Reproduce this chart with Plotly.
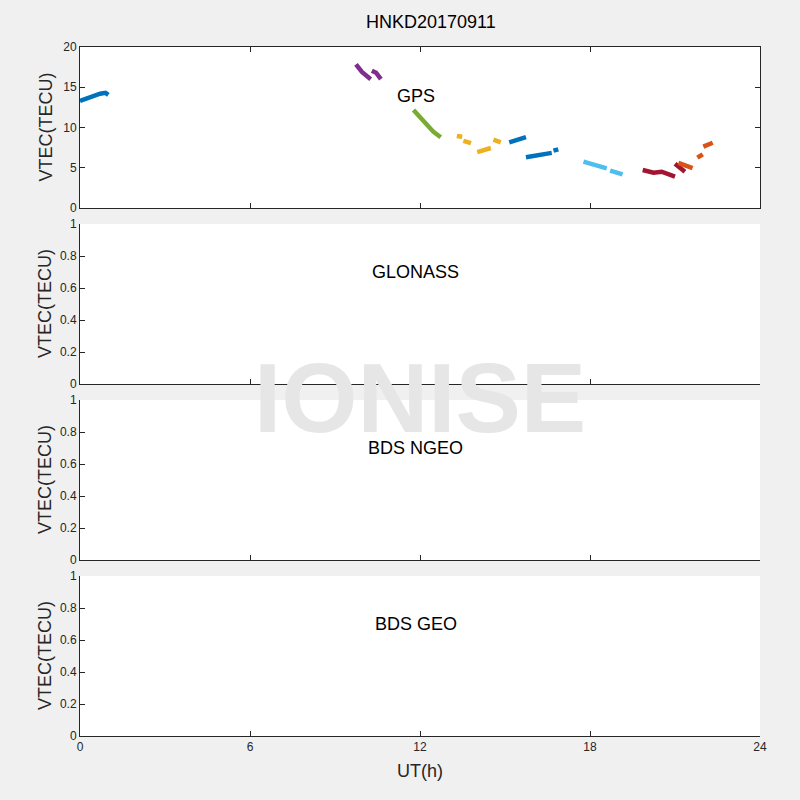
import plotly.graph_objects as go

# ---- data (UT hours, VTEC in TECU) ----
station_title = "HNKD20170911"
panel_names = ["GPS", "GLONASS", "BDS NGEO", "BDS GEO"]
x_ticks = [0, 6, 12, 18, 24]
gps_yticks = [0, 5, 10, 15, 20]
other_yticks = [0, 0.2, 0.4, 0.6, 0.8, 1]

blue_a_h = [0.0, 0.35, 0.71, 0.9, 1.0]
blue_a_v = [13.3, 13.8, 14.2, 14.3, 14.05]
purple_a_h = [9.74, 9.95, 10.26]
purple_a_v = [17.85, 16.9, 16.0]
purple_b_h = [10.3, 10.45, 10.62]
purple_b_v = [17.06, 16.8, 16.0]
green_h = [11.77, 12.12, 12.47, 12.73]
green_v = [12.17, 10.72, 9.48, 8.78]
yellow_a_h = [13.3, 13.49]
yellow_a_v = [8.95, 8.85]
yellow_b_h = [13.53, 13.8]
yellow_b_v = [8.35, 8.05]
yellow_c_h = [14.02, 14.25, 14.5]
yellow_c_v = [6.95, 7.15, 7.45]
yellow_d_h = [14.59, 14.85]
yellow_d_v = [8.5, 8.15]
blue_b_h = [15.15, 15.45, 15.74]
blue_b_v = [8.15, 8.55, 8.8]
blue_c_h = [15.74, 16.2, 16.65]
blue_c_v = [6.3, 6.55, 6.85]
blue_d_h = [16.71, 16.88]
blue_d_v = [7.12, 7.29]
cyan_a_h = [17.77, 18.2, 18.59]
cyan_a_v = [5.75, 5.35, 4.93]
cyan_b_h = [18.71, 19.15]
cyan_b_v = [4.64, 4.18]
red_a_h = [19.86, 20.24, 20.53, 21.0]
red_a_v = [4.72, 4.39, 4.51, 3.89]
red_b_h = [21.0, 21.35]
red_b_v = [5.5, 4.51]
orange_a_h = [21.12, 21.62]
orange_a_v = [5.6, 4.95]
orange_b_h = [21.79, 21.98]
orange_b_v = [6.25, 6.67]
orange_c_h = [22.0, 22.33]
orange_c_v = [7.62, 8.11]

segments = [
    (blue_a_h, blue_a_v, "#0072BD"),
    (purple_a_h, purple_a_v, "#7E2F8E"),
    (purple_b_h, purple_b_v, "#7E2F8E"),
    (green_h, green_v, "#77AC30"),
    (yellow_a_h, yellow_a_v, "#EDB120"),
    (yellow_b_h, yellow_b_v, "#EDB120"),
    (yellow_c_h, yellow_c_v, "#EDB120"),
    (yellow_d_h, yellow_d_v, "#EDB120"),
    (blue_b_h, blue_b_v, "#0072BD"),
    (blue_c_h, blue_c_v, "#0072BD"),
    (blue_d_h, blue_d_v, "#0072BD"),
    (cyan_a_h, cyan_a_v, "#4DBEEE"),
    (cyan_b_h, cyan_b_v, "#4DBEEE"),
    (red_a_h, red_a_v, "#A2142F"),
    (red_b_h, red_b_v, "#A2142F"),
    (orange_a_h, orange_a_v, "#D95319"),
    (orange_b_h, orange_b_v, "#D95319"),
    (orange_c_h, orange_c_v, "#D95319"),
]

W, H = 800, 800
FONT = "Liberation Sans, Arial, Helvetica, sans-serif"
AX = "#262626"

fig = go.Figure()
for h, v, c in segments:
    fig.add_trace(go.Scatter(x=h, y=v, mode="lines",
                             line=dict(color=c, width=4.5),
                             xaxis="x", yaxis="y", showlegend=False,
                             hoverinfo="skip"))

# panel pixel boxes (top, bottom)
panels_px = [(47, 208), (224, 384), (400, 560), (576, 736)]
x_dom = [80 / W, 760 / W]

layout = dict(
    width=W, height=H,
    margin=dict(l=0, r=0, t=0, b=0),
    paper_bgcolor="#f0f0f0",
    plot_bgcolor="white",
    font=dict(family=FONT, color=AX, size=12),
    showlegend=False,
)

annotations = []
for i, (top, bot) in enumerate(panels_px):
    n = "" if i == 0 else str(i + 1)
    xa = "xaxis" + n
    ya = "yaxis" + n
    mirror = "ticks" if i == 0 else False
    layout[xa] = dict(
        domain=x_dom, anchor="y" + n, range=[0, 24],
        tickvals=x_ticks, ticktext=[str(t) for t in x_ticks],
        showticklabels=(i == 3), ticks="inside", ticklen=5, tickwidth=1,
        tickcolor=AX, showline=True, linecolor=AX, linewidth=1,
        mirror=mirror, showgrid=False, zeroline=False, automargin=False,
        tickfont=dict(size=12, color=AX, family=FONT), fixedrange=True,
    )
    if i == 0:
        yr, yt = [0, 20], gps_yticks
    else:
        yr, yt = [0, 1], other_yticks
    layout[ya] = dict(
        domain=[1 - bot / H, 1 - top / H], anchor="x" + n, range=yr,
        tickvals=yt, ticktext=[("%g" % t) for t in yt],
        ticks="inside", ticklen=5, tickwidth=1, tickcolor=AX,
        showline=True, linecolor=AX, linewidth=1, mirror=mirror,
        showgrid=False, zeroline=False, automargin=False,
        tickfont=dict(size=12, color=AX, family=FONT), fixedrange=True,
    )
    # y-axis title
    annotations.append(dict(
        text="VTEC(TECU)", x=45 / W, y=1 - (top + bot) / 2 / H,
        xref="paper", yref="paper", showarrow=False, textangle=-90,
        xanchor="center", yanchor="middle",
        font=dict(size=18, color=AX, family=FONT)))
    # panel label
    annotations.append(dict(
        text=panel_names[i], x=11.85, y=(13.9 if i == 0 else 0.7),
        xref="x" + n, yref="y" + n, showarrow=False,
        xanchor="center", yanchor="middle",
        font=dict(size=18, color="black", family=FONT)))

annotations.append(dict(
    text=station_title, x=431 / W, y=1 - 22 / H, xref="paper", yref="paper",
    showarrow=False, xanchor="center", yanchor="middle",
    font=dict(size=18, color="black", family=FONT)))
annotations.append(dict(
    text="UT(h)", x=420 / W, y=1 - 771 / H, xref="paper", yref="paper",
    showarrow=False, xanchor="center", yanchor="middle",
    font=dict(size=18, color=AX, family=FONT)))
annotations.append(dict(
    text="IONISE", x=420 / W, y=1 - 398 / H, xref="paper", yref="paper",
    showarrow=False, xanchor="center", yanchor="middle",
    font=dict(size=98, color="#e6e6e6", family=FONT, weight="bold")))

layout["annotations"] = annotations
fig.update_layout(**layout)
fig.write_html(
    "out.html",
    config={"displayModeBar": False, "staticPlot": True},
    post_script="document.body.style.margin='0';"
                "document.body.style.background='#f0f0f0';",
)
